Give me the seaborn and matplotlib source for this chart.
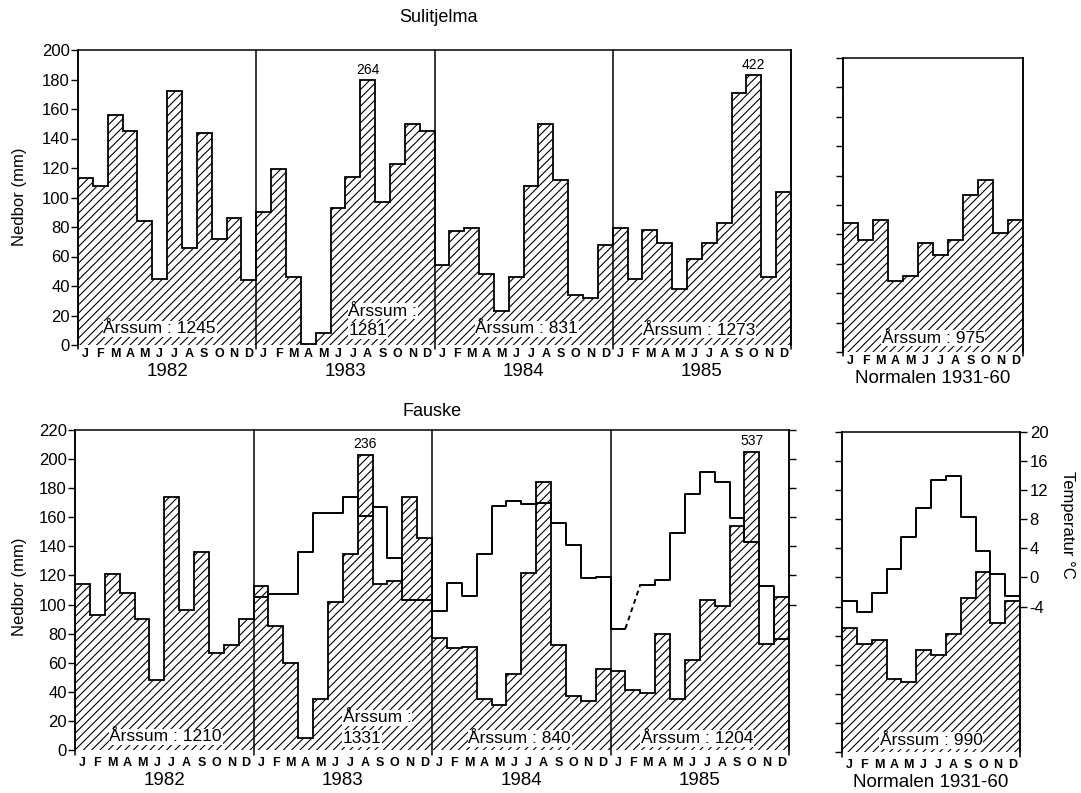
import numpy as np
import seaborn as sns
import matplotlib.pyplot as plt

sns.set_theme(style="ticks")
plt.rcParams["font.family"] = ["Liberation Sans", "DejaVu Sans"]
plt.rcParams["axes.unicode_minus"] = False
plt.rcParams["hatch.linewidth"] = 0.8
for k in ["text.color", "axes.labelcolor", "xtick.color", "ytick.color", "axes.edgecolor"]:
    plt.rcParams[k] = "black"

MND = list("JFMAMJJASOND")
AAR = ["1982", "1983", "1984", "1985"]

# Nedbør Sulitjelma (mm), avkuttede stolper er lagt inn med tegnet høyde
sul_1982 = [113, 108, 156, 145, 84, 45, 172, 66, 144, 72, 86, 44]
sul_1983 = [90, 119, 46, 1, 8, 93, 114, 180, 97, 123, 150, 145]
sul_1984 = [54, 77, 79, 48, 23, 46, 108, 150, 112, 34, 32, 68]
sul_1985 = [79, 45, 78, 69, 38, 58, 69, 83, 171, 183, 46, 104]
sul_normal = [88, 76, 90, 48, 52, 74, 66, 76, 107, 117, 81, 90]
sul_sum = ["1245", "1281", "831", "1273"]
sul_normal_sum = "975"
sul_brudd = {19: "264", 45: "422"}

# Nedbør Fauske (mm)
fau_1982 = [114, 93, 121, 108, 90, 48, 174, 96, 136, 67, 72, 90]
fau_1983 = [113, 85, 60, 8, 35, 102, 135, 203, 114, 116, 174, 146]
fau_1984 = [77, 70, 71, 35, 31, 52, 122, 184, 72, 37, 34, 56]
fau_1985 = [54, 41, 39, 80, 35, 62, 103, 99, 154, 205, 73, 105]
fau_normal = [85, 74, 77, 50, 48, 70, 67, 81, 106, 124, 89, 104]
fau_sum = ["1210", "1331", "840", "1204"]
fau_normal_sum = "990"
fau_brudd = {19: "236", 45: "537"}

# Temperatur Fauske (grader C), februar 1985 mangler
temp_1983 = [-3.0, -2.6, -2.6, 3.2, 8.6, 8.6, 10.8, 8.2, 9.4, 2.4, -3.4, -3.4]
temp_1984 = [-4.9, -1.0, -2.8, 3.0, 9.5, 10.2, 9.8, 10.0, 7.2, 4.2, -0.3, -0.2]
temp_1985 = [-7.3, np.nan, -1.3, -0.6, 5.8, 11.2, 14.2, 12.9, 7.9, 4.6, -1.5, -8.8]
temp_normal = [-3.3, -4.7, -2.2, 1.1, 5.6, 9.6, 13.4, 13.9, 8.3, 3.6, 0.5, -2.5]


def tegn_nedbor(ax, verdier):
    kanter = np.arange(len(verdier) + 1)
    ax.stairs(verdier, kanter, fill=True, facecolor="white", edgecolor="black",
              hatch="////", linewidth=0)
    ax.stairs(verdier, kanter, baseline=0, color="black", linewidth=1.3)


def stil(ax, ytopp, vis_tall, mnd_pad, aar_tekster, aar_dy):
    n = 12 * len(aar_tekster)
    ax.set_xlim(0, n)
    ax.set_ylim(0, ytopp)
    ax.spines["bottom"].set_visible(False)
    for s in ["left", "right", "top"]:
        ax.spines[s].set_linewidth(1.1)
    ax.set_xticks(np.arange(n) + 0.5)
    ax.set_xticklabels(MND * len(aar_tekster), fontsize=9, fontweight="bold")
    ax.tick_params(axis="x", length=0, pad=mnd_pad)
    ax.set_yticks(np.arange(0, ytopp + 1, 20))
    ax.tick_params(axis="y", direction="out", length=5, width=1,
                   labelsize=12, pad=1, labelleft=vis_tall)
    for x in range(0, n + 1, 12):
        ax.plot([x, x], [-ytopp * 0.015, ytopp], color="black", lw=1.1, clip_on=False)
    for i, t in enumerate(aar_tekster):
        ax.annotate(t, xy=(12 * i + 6, 0), xycoords=("data", "axes fraction"),
                    xytext=(0, aar_dy), textcoords="offset points",
                    ha="center", va="center", fontsize=13.5)


def arssum(ax, x, y, tekst, ha="center"):
    ax.text(x, y, tekst, ha=ha, va="center", fontsize=12.5,
            bbox=dict(facecolor="white", edgecolor="none", pad=0.5))


def brudd(ax, verdier, merker, dy):
    for i, t in merker.items():
        ax.annotate(t, xy=(i + 0.5, verdier[i]), xytext=(0, dy),
                    textcoords="offset points", ha="center", va="center", fontsize=10)


def trapp(ax, x0, t, **kw):
    xs = list(np.arange(x0, x0 + len(t) + 1))
    ys = list(t) + [t[-1]]
    sns.lineplot(x=xs, y=ys, ax=ax, drawstyle="steps-post", color="black",
                 estimator=None, sort=False, **kw)


fig = plt.figure(figsize=(10.81, 7.93), dpi=100)
W, H = 1081, 793


def akse(x0, x1, ytop, ybun):
    return fig.add_axes([x0 / W, 1 - ybun / H, (x1 - x0) / W, (ybun - ytop) / H])


# ---- Sulitjelma ----
ax = akse(78, 791, 50, 345)
sul = sul_1982 + sul_1983 + sul_1984 + sul_1985
tegn_nedbor(ax, sul)
stil(ax, 200, True, 2, AAR, -19)
brudd(ax, sul, sul_brudd, 7)
arssum(ax, 5.5, 11, "Årssum : " + sul_sum[0])
arssum(ax, 18.2, 23, "Årssum :", ha="left")
arssum(ax, 18.2, 9.5, sul_sum[1], ha="left")
arssum(ax, 30.2, 11, "Årssum : " + sul_sum[2])
arssum(ax, 41.8, 10, "Årssum : " + sul_sum[3])

axn = akse(843, 1023, 58, 352)
tegn_nedbor(axn, sul_normal)
stil(axn, 200, False, 2, ["Normalen 1931-60"], -19)
arssum(axn, 6, 9.5, "Årssum : " + sul_normal_sum)

fig.text(438 / W, 1 - 18 / H, "Sulitjelma", ha="center", va="center", fontsize=13)
fig.text(20 / W, 1 - 197 / H, "Nedbor (mm)", rotation=90, ha="center", va="center", fontsize=12)

# ---- Fauske ----
ax = akse(75, 789, 430, 750)
fau = fau_1982 + fau_1983 + fau_1984 + fau_1985
tegn_nedbor(ax, fau)
stil(ax, 220, True, 5, AAR, -22)
brudd(ax, fau, fau_brudd, 8)
arssum(ax, 6.1, 9, "Årssum : " + fau_sum[0])
arssum(ax, 18.0, 22, "Årssum :", ha="left")
arssum(ax, 18.0, 8, fau_sum[1], ha="left")
arssum(ax, 29.9, 8, "Årssum : " + fau_sum[2])
arssum(ax, 41.8, 8, "Årssum : " + fau_sum[3])

ax2 = ax.twinx()
temp = temp_1983 + temp_1984 + temp_1985
trapp(ax2, 12, temp[:25], linewidth=1.4)
sns.lineplot(x=[37, 38], y=[temp_1985[0], temp_1985[2]], ax=ax2, color="black",
             linewidth=1.4, linestyle=(0, (2.5, 2)), estimator=None, sort=False)
trapp(ax2, 38, temp_1985[2:], linewidth=1.4)
ax2.set_xlim(0, 48)
ax2.set_ylim(-24, 20)
ax2.set_yticks(np.arange(-4, 21, 4))
ax2.tick_params(axis="y", direction="out", length=5, width=1, labelright=False)
for s in ax2.spines.values():
    s.set_visible(False)

axn = akse(842, 1020, 432, 752)
tegn_nedbor(axn, fau_normal)
stil(axn, 220, False, 5, ["Normalen 1931-60"], -22)
arssum(axn, 6, 8, "Årssum : " + fau_normal_sum)
axn2 = axn.twinx()
trapp(axn2, 0, temp_normal, linewidth=1.4)
axn2.set_xlim(0, 12)
axn2.set_ylim(-24, 20)
axn2.set_yticks(np.arange(-4, 21, 4))
axn2.set_yticklabels([str(v) for v in np.arange(-4, 21, 4)])
axn2.tick_params(axis="y", direction="out", length=5, width=1, labelsize=12, pad=2)
for s in axn2.spines.values():
    s.set_visible(False)
axn2.set_ylabel("")

fig.text(432 / W, 1 - 412 / H, "Fauske", ha="center", va="center", fontsize=13)
fig.text(20 / W, 1 - 587 / H, "Nedbor (mm)", rotation=90, ha="center", va="center", fontsize=12)
fig.text(1068 / W, 1 - 525 / H, "Temperatur °C", rotation=270, ha="center", va="center", fontsize=12)

fig.savefig("out.png", dpi=100)
